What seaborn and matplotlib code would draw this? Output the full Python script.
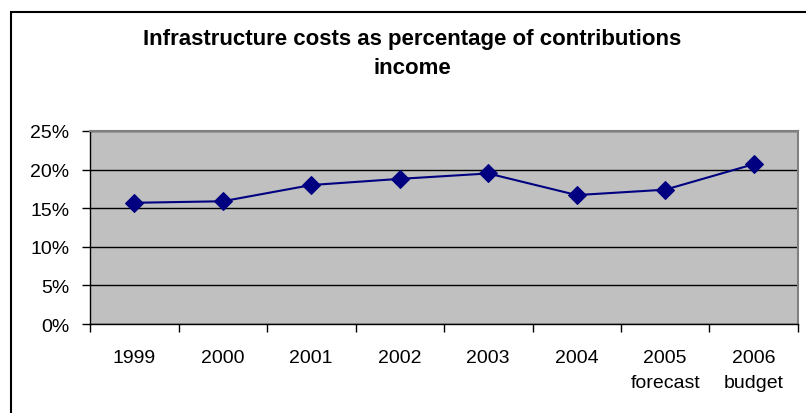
import pandas as pd
import matplotlib.pyplot as plt
import seaborn as sns
from matplotlib.patches import Rectangle
from matplotlib.ticker import FuncFormatter

# dades llegides del gràfic
years = ['1999', '2000', '2001', '2002', '2003', '2004', '2005\nforecast', '2006\nbudget']
pct = [15.7, 15.9, 18.0, 18.8, 19.5, 16.7, 17.4, 20.7]

df = pd.DataFrame({'year': years, 'pct': pct})

sns.set_style('white', {'text.color': 'black', 'xtick.color': 'black', 'ytick.color': 'black'})
plt.rcParams['font.family'] = ['Liberation Sans', 'DejaVu Sans']

fig = plt.figure(figsize=(8.06, 4.14), dpi=100)
ax = fig.add_axes([90 / 806, 1 - 325 / 414, (798 - 90) / 806, (325 - 132) / 414])
ax.set_facecolor('#C0C0C0')

sns.lineplot(data=df, x='year', y='pct', ax=ax, color='#000080', marker='D',
             markersize=9, markeredgecolor='#000080', linewidth=1.5, sort=False)

ax.set_xlim(-0.5, len(years) - 0.5)
ax.set_ylim(0, 25)
ax.set_yticks([0, 5, 10, 15, 20, 25])
ax.yaxis.set_major_formatter(FuncFormatter(lambda v, p: f'{v:.0f}%'))
ax.grid(axis='y', color='black', linewidth=1)
ax.set_axisbelow(True)

# marques de l'eix x entre categories
ax.set_xticks(range(len(years)))
ax.set_xticklabels(years, fontsize=14)
for t in ax.get_xticklabels():
    t.set_linespacing(1.65)
ax.set_xticks([i - 0.5 for i in range(len(years) + 1)], minor=True)
ax.tick_params(axis='x', which='major', length=0, pad=18, labelcolor='black')
ax.tick_params(axis='x', which='minor', length=6, width=1, color='black', direction='out')
ax.tick_params(axis='y', length=6, width=1, color='black', direction='out', labelsize=14, pad=9,
               labelcolor='black')
ax.tick_params(bottom=True, left=True, which='both')
ax.set_xlabel('')
ax.set_ylabel('')

for s in ['top', 'right']:
    ax.spines[s].set_color('#808080')
    ax.spines[s].set_linewidth(1.5)
for s in ['left', 'bottom']:
    ax.spines[s].set_color('black')
    ax.spines[s].set_linewidth(1)

fig.text(412 / 806, 1 - 54 / 414, 'Infrastructure costs as percentage of contributions\nincome',
         ha='center', va='center', fontsize=16, fontweight='bold', linespacing=1.45, color='black')

fig.patches.append(Rectangle((11 / 806, -0.1), 2, 1 - 13 / 414 + 0.1,
                             transform=fig.transFigure, fill=False, edgecolor='black', linewidth=1.5))

fig.savefig('out.png', dpi=100)
